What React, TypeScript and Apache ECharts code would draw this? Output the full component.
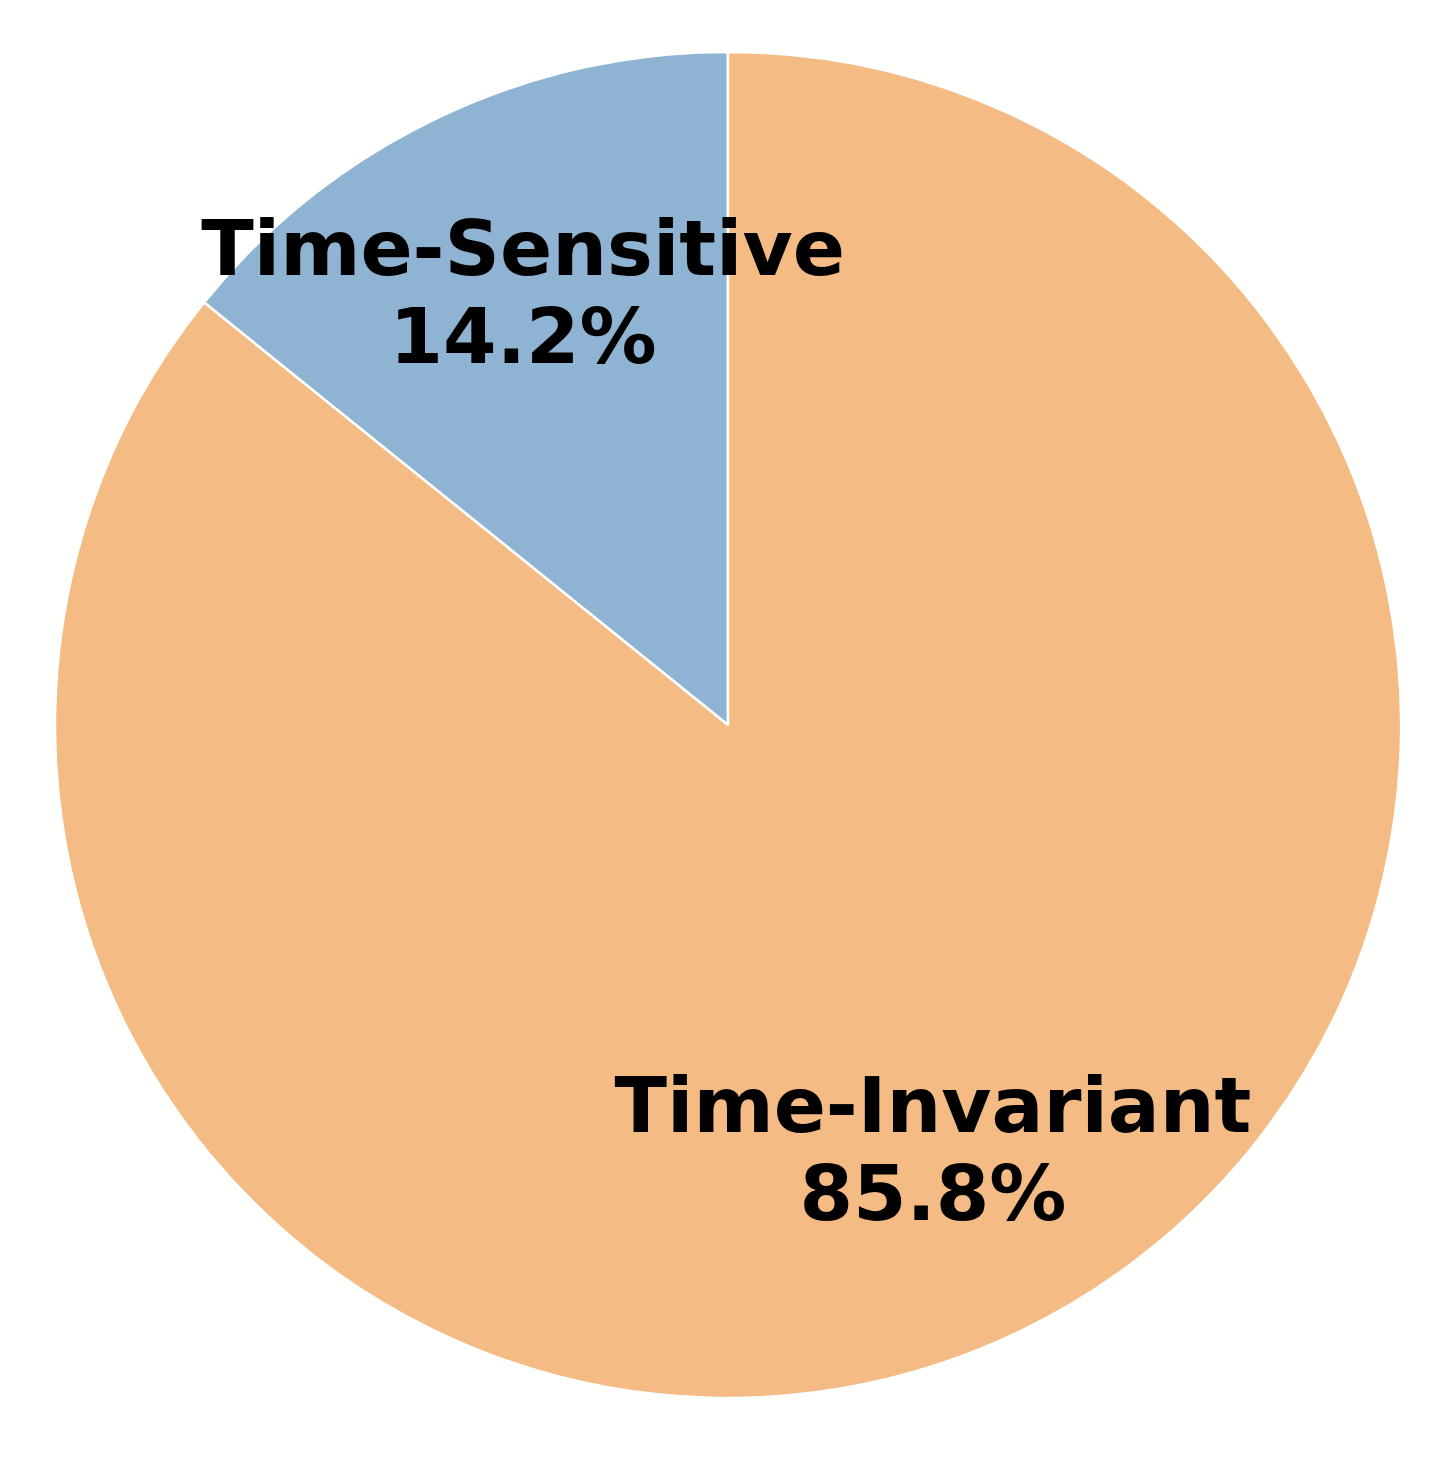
import React, { useEffect, useRef } from "react";
import * as echarts from "echarts";

const categories = ["Time-Sensitive", "Time-Invariant"];
const values = [14.2, 85.8];
const colors = ["#8fb3d2", "#f4bb84"];

export default function App() {
  const ref = useRef<HTMLDivElement>(null);
  useEffect(() => {
    if (!ref.current) return;
    const chart = echarts.init(ref.current, undefined, { renderer: "svg" });
    const data = categories.map((name, i) => ({ name, value: values[i] }));
    chart.setOption({
      animation: false,
      backgroundColor: "#fffffd",
      series: [
        {
          type: "pie",
          center: [728, 725],
          radius: [0, 673],
          startAngle: 90,
          clockwise: false,
          silent: true,
          avoidLabelOverlap: false,
          label: { show: false },
          labelLine: { show: false },
          itemStyle: { borderColor: "#ffffff", borderWidth: 2.5 },
          data: data.map((d, i) => ({ ...d, itemStyle: { color: colors[i] } })),
        },
        {
          type: "pie",
          center: [728, 725],
          radius: [271, 673],
          startAngle: 90,
          clockwise: false,
          silent: true,
          z: 5,
          avoidLabelOverlap: false,
          itemStyle: { color: "rgba(0,0,0,0)", borderWidth: 0 },
          labelLine: { show: false },
          label: {
            show: true,
            position: "inside",
            formatter: "{b}\n{c}%",
            fontFamily: "DejaVu Sans",
            fontWeight: "bold",
            fontSize: 77,
            lineHeight: 88,
            color: "#000000",
            align: "center",
            offset: [0, -4],
          },
          data,
        },
      ],
    });
    return () => chart.dispose();
  }, []);
  return (
    <div
      ref={ref}
      style={{ position: "fixed", left: 0, top: 0, width: 1454, height: 1468 }}
    />
  );
}
